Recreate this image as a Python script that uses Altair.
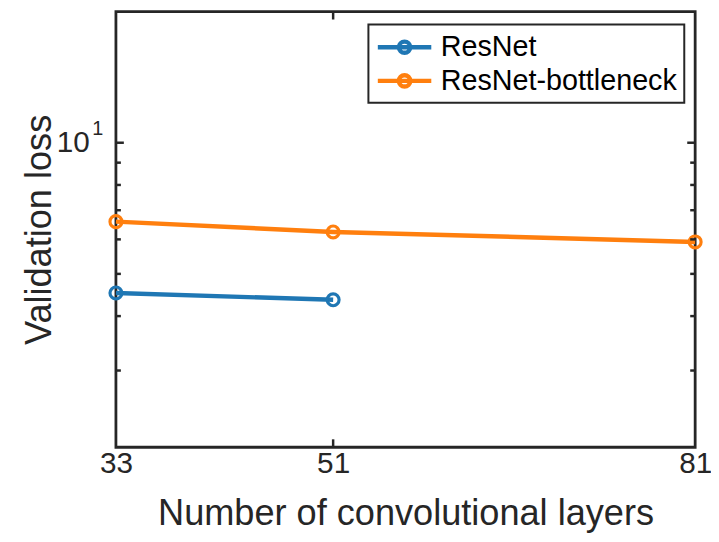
import altair as alt
import pandas as pd

# ---- data ----
layers_resnet = [33, 51]
loss_resnet = [4.52, 4.36]
layers_bottleneck = [33, 51, 81]
loss_bottleneck = [6.59, 6.24, 5.92]
series_names = ["ResNet", "ResNet-bottleneck"]
series_colors = ["#1f77b4", "#ff7f0e"]

x_tick_values = [33, 51, 81]
x_inner_ticks = [51]
y_major_ticks = [10]
y_minor_ticks = [3, 4, 5, 6, 7, 8, 9]
y_exponent = ["1"]

df = pd.DataFrame({
    "layers": layers_resnet + layers_bottleneck,
    "loss": loss_resnet + loss_bottleneck,
    "model": [series_names[0]] * len(layers_resnet) + [series_names[1]] * len(layers_bottleneck),
})

W, H = 585, 440
FONT = "Liberation Sans"
AX = "#262626"

xscale = alt.Scale(domain=[33, 81], nice=False, zero=False)
yscale = alt.Scale(type="log", domain=[2, 20], nice=False)

legend = alt.Legend(
    title=None, orient="none", legendX=255, legendY=13,
    strokeColor=AX, fillColor="white", padding=7,
    symbolType="M-1,0L3,0M1.42,0A0.42,0.42,0,1,1,0.58,0A0.42,0.42,0,1,1,1.42,0",
    symbolSize=729, symbolStrokeWidth=4.5, symbolFillColor="transparent",
    labelFont=FONT, labelFontSize=29, labelColor="black", labelOffset=34, labelLimit=0,
    rowPadding=3,
)

main = alt.Chart(df).mark_line(
    strokeWidth=4.5,
    point=alt.OverlayMarkDef(filled=False, size=144, strokeWidth=3.2, fill="transparent"),
).encode(
    x=alt.X("layers:Q", scale=xscale, axis=alt.Axis(
        values=x_tick_values, ticks=False, domain=False, grid=False,
        labelFlush=False, labelFont=FONT, labelFontSize=30, labelColor=AX, labelPadding=2,
        title="Number of convolutional layers", titleFont=FONT, titleFontSize=36.5,
        titleFontWeight="normal", titleColor=AX, titleY=78, titleBaseline="alphabetic",
    )),
    y=alt.Y("loss:Q", scale=yscale, axis=alt.Axis(
        values=y_major_ticks, labelExpr="'10'", ticks=False, domain=False,
        grid=False, labelFont=FONT, labelFontSize=30, labelColor=AX, labelPadding=27,
        title="Validation loss", titleFont=FONT, titleFontSize=36.5, titleFontWeight="normal",
        titleColor=AX, titleX=-77, titleY=H / 2, titleBaseline="middle", titleAngle=270,
    )),
    color=alt.Color("model:N", scale=alt.Scale(domain=series_names, range=series_colors), legend=legend),
)

exponent = alt.Chart(pd.DataFrame({"v": y_major_ticks, "t": y_exponent})).mark_text(
    font=FONT, fontSize=20, color=AX, align="left", baseline="alphabetic", dy=-8,
).encode(y=alt.Y("v:Q", scale=yscale, axis=None), x=alt.value(-24), text="t:N")


def ytick(vals, x0, x1):
    return alt.Chart(pd.DataFrame({"v": vals})).mark_rule(color=AX, strokeWidth=2.5).encode(
        y=alt.Y("v:Q", scale=yscale, axis=None), x=alt.value(x0), x2=alt.value(x1))


def xtick(vals, y0, y1):
    return alt.Chart(pd.DataFrame({"v": vals})).mark_rule(color=AX, strokeWidth=2.5).encode(
        x=alt.X("v:Q", scale=xscale, axis=None), y=alt.value(y0), y2=alt.value(y1))


ticks = [
    ytick(y_major_ticks, 0, 8), ytick(y_minor_ticks, 0, 5),
    ytick(y_major_ticks, W - 8, W), ytick(y_minor_ticks, W - 5, W),
    xtick(x_inner_ticks, H - 8, H), xtick(x_inner_ticks, 0, 8),
]

chart = alt.layer(main, exponent, *ticks).resolve_axis(x="independent", y="independent").properties(
    width=W, height=H,
    background="white",
    autosize=alt.AutoSizeParams(type="none"),
    padding={"left": 109, "top": 1, "right": 16, "bottom": 85},
).configure_view(stroke=AX, strokeWidth=2.8).configure_legend(strokeWidth=2)

chart.save("out.html", embed_options={"renderer": "svg", "actions": False})
